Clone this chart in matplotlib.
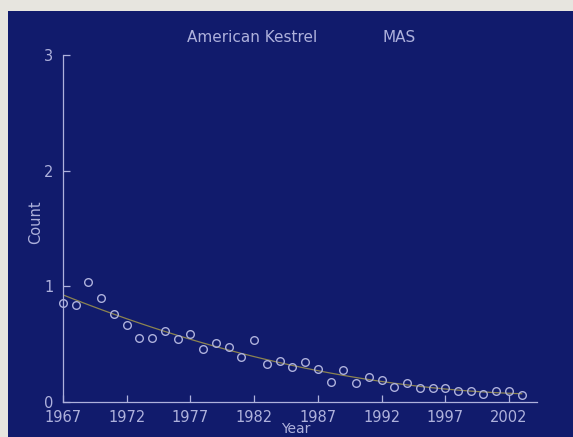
import matplotlib
matplotlib.use("Agg")
import matplotlib.pyplot as plt
from matplotlib.patches import Rectangle
import numpy as np

# Yearly counts per party-hour
years = np.arange(1967, 2004)
counts = [0.85, 0.84, 1.04, 0.90, 0.76, 0.66, 0.55, 0.55, 0.61, 0.54,
          0.59, 0.46, 0.51, 0.47, 0.39, 0.53, 0.33, 0.35, 0.30, 0.34,
          0.28, 0.17, 0.27, 0.16, 0.21, 0.19, 0.13, 0.16, 0.12, 0.12,
          0.12, 0.09, 0.09, 0.07, 0.09, 0.09, 0.06]

xticks = [1967, 1972, 1977, 1982, 1987, 1992, 1997, 2002]
yticks = [0, 1, 2, 3]

navy = "#111b6c"
ink = "#aeb1dc"
trend_col = "#8c8450"

W, H = 573, 437
fig = plt.figure(figsize=(W / 100, H / 100), dpi=100)
fig.patch.set_facecolor("#e7e5df")
fig.patches.append(Rectangle((8 / W, 0), 1, 1 - 11 / H, transform=fig.transFigure,
                             facecolor=navy, edgecolor="none", zorder=-10))

ax = fig.add_axes([63 / W, 1 - 401.7 / H, (537 - 63) / W, (401.7 - 55) / H])
ax.set_facecolor("none")
ax.set_zorder(2)

# smooth trend through the counts
z = np.polyfit(years, counts, 2)
ax.plot(years, np.poly1d(z)(years), color=trend_col, lw=0.9, zorder=2)
ax.plot(years, counts, "o", mfc="none", mec=ink, mew=1.0, ms=5.5, zorder=3,
        clip_on=False)

ax.set_xlim(1967, 2004.2)
ax.set_ylim(0, 3)
ax.set_xticks(xticks)
ax.set_yticks(yticks)
for s in ["top", "right"]:
    ax.spines[s].set_visible(False)
for s in ["left", "bottom"]:
    ax.spines[s].set_color(ink)
    ax.spines[s].set_linewidth(0.9)
ax.tick_params(axis="both", direction="in", length=5, width=0.9, color=ink,
               labelcolor=ink, labelsize=10.5)
ax.tick_params(axis="x", pad=6)
ax.tick_params(axis="y", pad=7)

fig.text(252 / W, 1 - 38 / H, "American Kestrel", color=ink, fontsize=11,
         ha="center", va="center")
fig.text(399 / W, 1 - 38 / H, "MAS", color=ink, fontsize=11,
         ha="center", va="center")
fig.text(35.5 / W, 1 - 222 / H, "Count", color=ink, fontsize=10.5,
         rotation=90, ha="center", va="center")
fig.text(296 / W, 1 - 422 / H, "Year", color=ink, fontsize=10,
         ha="center", va="top")

fig.savefig("out.png", dpi=100, facecolor=fig.get_facecolor())
